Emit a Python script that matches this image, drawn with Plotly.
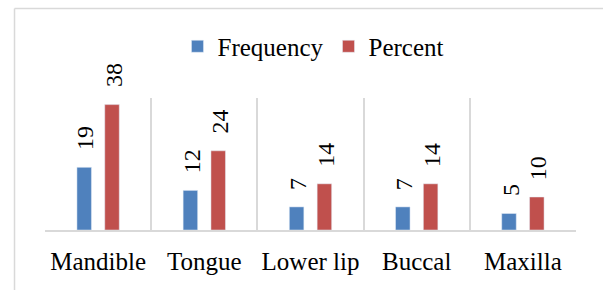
import plotly.graph_objects as go

categories = ["Mandible", "Tongue", "Lower lip", "Buccal", "Maxilla"]
frequency = [19, 12, 7, 7, 5]
percent = [38, 24, 14, 14, 10]

BLUE = "#4F81BD"
RED = "#C0504D"
GRID = "#d9d9d9"
FONT = "Liberation Serif"

fig = go.Figure()
fig.add_bar(name="Frequency", x=categories, y=frequency, marker_color=BLUE)
fig.add_bar(name="Percent", x=categories, y=percent, marker_color=RED)

annotations = []
for vals, shift in ((frequency, -13.9), (percent, 13.9)):
    for c, v in zip(categories, vals):
        annotations.append(dict(
            x=c, y=v, xref="x", yref="y", text=str(v), showarrow=False,
            textangle=-90, xanchor="center", yanchor="bottom",
            xshift=shift + 1.5, yshift=15,
            font=dict(family=FONT, size=24, color="black"),
        ))

fig.update_layout(
    width=603, height=290,
    margin=dict(l=45, r=27, t=98, b=60, autoexpand=False),
    paper_bgcolor="white", plot_bgcolor="white",
    barmode="group", bargap=0.476, bargroupgap=0.478,
    font=dict(family=FONT, color="black"),
    showlegend=True,
    legend=dict(orientation="h", x=0.5056, xanchor="center", y=1.39, yanchor="middle",
                font=dict(family=FONT, size=25, color="black"), bgcolor="rgba(0,0,0,0)"),
    annotations=annotations,
    shapes=[
        dict(type="line", xref="paper", yref="paper", x0=-0.0574, x1=1.2, y0=1.678, y1=1.678,
             line=dict(color=GRID, width=1.5)),
        dict(type="line", xref="paper", yref="paper", x0=-0.0574, x1=-0.0574, y0=1.678, y1=-1,
             line=dict(color=GRID, width=1.5)),
    ],
)
fig.update_xaxes(type="category", tickson="boundaries", showgrid=True, gridcolor=GRID, gridwidth=1.5,
                 showline=True, linecolor=GRID, linewidth=1.5, ticks="", automargin=False,
                 tickangle=0, ticklabelstandoff=8,
                 tickfont=dict(family=FONT, size=25, color="black"))
fig.update_yaxes(visible=False, range=[0, 40])

post = """
document.body.style.margin='0';
var gd = document.getElementById('{plot_id}');
function rerender() {
  try { Plotly.newPlot(gd, gd.data, gd.layout, {displayModeBar: false}); } catch (e) {}
}
setTimeout(rerender, 30);
setTimeout(rerender, 250);
setTimeout(rerender, 800);
"""
fig.write_html("out.html", config={"displayModeBar": False}, post_script=post)
